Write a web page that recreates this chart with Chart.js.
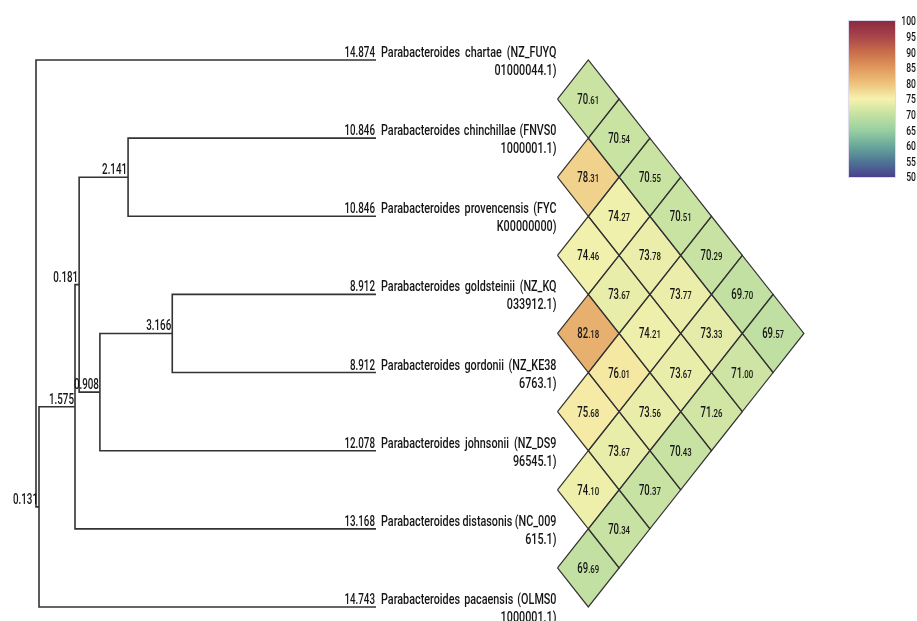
<!DOCTYPE html>
<html><head><meta charset="utf-8">
<script src="https://cdn.jsdelivr.net/npm/chart.js@4"></script>
<style>html,body{margin:0;padding:0;background:#fff;}#wrap{width:917px;height:621px;position:relative;}</style>
</head><body><div id="wrap"><canvas id="c"></canvas></div>
<script>
// ---------- data ----------
const leafNames = [
  ["Parabacteroides chartae (NZ_FUYQ", "01000044.1)"],
  ["Parabacteroides chinchillae (FNVS0", "1000001.1)"],
  ["Parabacteroides provencensis (FYC", "K00000000)"],
  ["Parabacteroides goldsteinii (NZ_KQ", "033912.1)"],
  ["Parabacteroides gordonii (NZ_KE38", "6763.1)"],
  ["Parabacteroides johnsonii (NZ_DS9", "96545.1)"],
  ["Parabacteroides distasonis (NC_009", "615.1)"],
  ["Parabacteroides pacaensis (OLMS0", "1000001.1)"]
];
const leafParent = ['root', 'nCP', 'nCP', 'nD', 'nD', 'nC', 'nA', 'n1'];
const leafBranch = [14.874, 10.846, 10.846, 8.912, 8.912, 12.078, 13.168, 14.743];
const nodeIds    = ['root', 'n1', 'nA', 'nB', 'nCP', 'nC', 'nD'];
const nodeParent = [null, 'root', 'n1', 'nA', 'nB', 'nB', 'nC'];
const nodeBranch = [0, 0.131, 1.575, 0.181, 2.141, 0.908, 3.166];
// pairwise identity (upper triangle): row i vs leaves i+1..7
const identity = [
  [70.61, 70.54, 70.55, 70.51, 70.29, 69.70, 69.57],
  [78.31, 74.27, 73.78, 73.77, 73.33, 71.00],
  [74.46, 73.67, 74.21, 73.67, 71.26],
  [82.18, 76.01, 73.56, 70.43],
  [75.68, 73.67, 70.37],
  [74.10, 70.34],
  [69.69]
];
const colorTicks = [50, 55, 60, 65, 70, 75, 80, 85, 90, 95, 100];
const colorStops = ['#4a3f8e', '#4f7696', '#6aa99b', '#9acfa2', '#c4e1a2', '#f6f2ad', '#eec27c', '#e0985c', '#c96e4a', '#a8444a', '#8b2a42'];

// ---------- tree layout ----------
const nodeX = {}, nodeY = {}, children = {};
nodeIds.forEach((id, k) => {
  const p = nodeParent[k];
  nodeX[id] = p === null ? 0 : nodeX[p] + nodeBranch[k];
  children[id] = [];
});
nodeIds.forEach((id, k) => { if (nodeParent[k]) children[nodeParent[k]].push({type: 'n', id, len: nodeBranch[k]}); });
leafParent.forEach((p, i) => children[p].push({type: 'l', i, len: leafBranch[i]}));
const leafX = leafBranch.map((b, i) => nodeX[leafParent[i]] + b);
function posOf(c) { return c.type === 'l' ? {x: leafX[c.i], y: c.i} : {x: nodeX[c.id], y: yOf(c.id)}; }
function yOf(id) {
  if (nodeY[id] !== undefined) return nodeY[id];
  const ys = children[id].map(c => posOf(c).y);
  nodeY[id] = (Math.min(...ys) + Math.max(...ys)) / 2;
  return nodeY[id];
}
nodeIds.forEach(yOf);

const LINE = '#333333';
const datasets = [];
nodeIds.forEach(id => {
  const cs = children[id].map(posOf).sort((a, b) => a.y - b.y);
  const a = cs[0], b = cs[cs.length - 1];
  datasets.push({
    xAxisID: 'x', yAxisID: 'y',
    data: [{x: a.x, y: a.y}, {x: nodeX[id], y: a.y}, {x: nodeX[id], y: b.y}, {x: b.x, y: b.y}],
    borderColor: LINE, borderWidth: 1.6, fill: false, pointRadius: 0
  });
});

function hexToRgb(h) { return [1, 3, 5].map(k => parseInt(h.substr(k, 2), 16)); }
function colorFor(v) {
  const t = Math.max(0, Math.min(colorTicks.length - 1.0001, (v - colorTicks[0]) / (colorTicks[1] - colorTicks[0])));
  const k = Math.floor(t), f = t - k;
  const a = hexToRgb(colorStops[k]), b = hexToRgb(colorStops[k + 1]);
  const c = a.map((x, n) => Math.round(x + (b[n] - x) * f));
  return `rgb(${c[0]},${c[1]},${c[2]})`;
}

const cells = [];
identity.forEach((row, i) => row.forEach((v, k) => {
  const j = i + 1 + k, d = j - i, m = (i + j) / 2;
  cells.push({v, d, m});
  datasets.push({
    xAxisID: 'xh', yAxisID: 'y',
    data: [{x: d - 1, y: m}, {x: d, y: m - 0.5}, {x: d + 1, y: m}, {x: d, y: m + 0.5}, {x: d - 1, y: m}],
    borderColor: '#333333', borderWidth: 1.2, backgroundColor: colorFor(v), fill: 'shape', pointRadius: 0
  });
}));

// ---------- drawing helpers ----------
const FONT = 'Roboto, "Liberation Sans", sans-serif';
const WEIGHT = '500';
function txt(ctx, s, x, y, size, sx, align) {
  ctx.save();
  ctx.font = WEIGHT + ' ' + size + 'px ' + FONT;
  const w = ctx.measureText(s).width * sx;
  const x0 = align === 'right' ? x - w : align === 'center' ? x - w / 2 : x;
  ctx.translate(x0, y); ctx.scale(sx, 1);
  ctx.textAlign = 'left'; ctx.textBaseline = 'alphabetic';
  ctx.fillText(s, 0, 0);
  ctx.restore();
  return w;
}
function measure(ctx, s, size, sx) {
  ctx.save(); ctx.font = WEIGHT + ' ' + size + 'px ' + FONT;
  const w = ctx.measureText(s).width * sx; ctx.restore(); return w;
}
function justified(ctx, s, x0, x1, y, size, sx) {
  const words = s.split(' ');
  const ws = words.map(w => measure(ctx, w, size, sx));
  const total = ws.reduce((a, b) => a + b, 0);
  const gap = (x1 - x0 - total) / (words.length - 1);
  let x = x0;
  words.forEach((w, k) => { txt(ctx, w, x, y, size, sx, 'left'); x += ws[k] + gap; });
}

const labelPlugin = {
  id: 'labels',
  afterDatasetsDraw(chart) {
    const ctx = chart.ctx, X = chart.scales.x, XH = chart.scales.xh, Y = chart.scales.y, YC = chart.scales.yc;
    ctx.save();
    ctx.fillStyle = '#151515';
    // branch length labels
    leafBranch.forEach((b, i) => {
      txt(ctx, b.toFixed(3), X.getPixelForValue(leafX[i]) - 1, Y.getPixelForValue(i) - 3, 14, 0.7, 'right');
    });
    nodeIds.forEach((id, k) => {
      if (nodeParent[k] === null) return;
      txt(ctx, nodeBranch[k].toFixed(3), X.getPixelForValue(nodeX[id]) - 1, Y.getPixelForValue(nodeY[id]) - 3, 14, 0.7, 'right');
    });
    // leaf names
    const right = XH.getPixelForValue(0) - 1;
    leafNames.forEach((ln, i) => {
      const y = Y.getPixelForValue(i);
      justified(ctx, ln[0], X.getPixelForValue(leafX[i]) + 5, right, y - 3, 15, 0.72);
      txt(ctx, ln[1], right, y + 15, 15, 0.72, 'right');
    });
    // cell values
    cells.forEach(c => {
      const cx = XH.getPixelForValue(c.d), cy = Y.getPixelForValue(c.m);
      const s = c.v.toFixed(2), ip = s.split('.')[0], dp = '.' + s.split('.')[1];
      const w1 = measure(ctx, ip, 14, 0.68), w2 = measure(ctx, dp, 11.5, 0.68);
      const x0 = cx - (w1 + w2) / 2;
      txt(ctx, ip, x0, cy + 5, 14, 0.68, 'left');
      txt(ctx, dp, x0 + w1, cy + 5, 11.5, 0.68, 'left');
    });
    // colour bar
    const bx0 = XH.getPixelForValue(9.46), bx1 = XH.getPixelForValue(10.96);
    const yTop = YC.getPixelForValue(colorTicks[colorTicks.length - 1]), yBot = YC.getPixelForValue(colorTicks[0]);
    const g = ctx.createLinearGradient(0, yBot, 0, yTop);
    colorStops.forEach((c, k) => g.addColorStop(k / (colorStops.length - 1), c));
    ctx.fillStyle = g;
    ctx.fillRect(bx0, yTop, bx1 - bx0, yBot - yTop);
    ctx.strokeStyle = '#dcd8e8'; ctx.lineWidth = 1;
    ctx.strokeRect(bx0 - 0.5, yTop - 0.5, bx1 - bx0 + 1, yBot - yTop + 1);
    ctx.fillStyle = '#151515';
    colorTicks.forEach(t => txt(ctx, String(t), 916, YC.getPixelForValue(t) + 4.5, 13, 0.66, 'right'));
    ctx.restore();
  }
};

new Chart(document.getElementById('c'), {
  type: 'line',
  data: {datasets},
  options: {
    responsive: true, maintainAspectRatio: false, animation: false, events: [],
    layout: {padding: 0, autoPadding: false},
    elements: {point: {radius: 0}, line: {tension: 0}},
    plugins: {legend: {display: false}, tooltip: {enabled: false}, filler: {drawTime: 'beforeDatasetsDraw'}},
    scales: {
      x:  {type: 'linear', display: false, min: -1.5749, max: 38.541},
      xh: {type: 'linear', axis: 'x', display: false, min: -18.101, max: 11.672},
      y:  {type: 'linear', display: false, reverse: true, min: -0.7678, max: 7.1794},
      yc: {type: 'linear', axis: 'y', display: false, min: -92.31, max: 106.73}
    }
  },
  plugins: [labelPlugin]
});
</script></body></html>
